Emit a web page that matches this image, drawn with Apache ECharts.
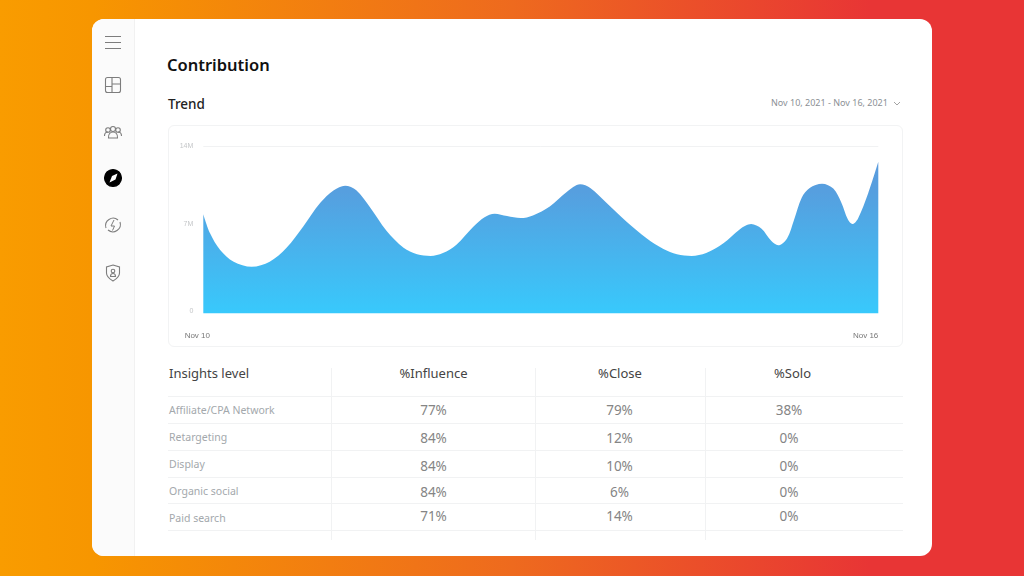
<!DOCTYPE html>
<html>
<head>
<meta charset="utf-8">
<script src="https://cdn.jsdelivr.net/npm/echarts@6/dist/echarts.min.js"></script>
<style>
  html, body { margin: 0; padding: 0; }
  body { width: 1024px; height: 576px; overflow: hidden; position: relative;
    background: linear-gradient(90deg, #f99c00 0%, #f79600 9%, #ee6a1e 50%, #e83535 85%, #e83535 100%);
    font-family: "Noto Sans", sans-serif; }
  .card { position: absolute; left: 92px; top: 19px; width: 840px; height: 537px; background: #fff; border-radius: 12px; overflow: hidden; }
  .side { position: absolute; left: 0; top: 0; width: 42px; height: 100%; background: #fbfbfb; border-right: 1px solid #f1f1f1; }
  .t { position: absolute; white-space: nowrap; }
  #chartBox { position: absolute; left: 168px; top: 125px; width: 735px; height: 222px; }
  #frame { position: absolute; left: 168px; top: 125px; width: 733px; height: 220px; border: 1px solid #f2f3f4; border-radius: 6px; }
  .hl { position: absolute; left: 168px; width: 735px; height: 1px; background: #f1f2f3; }
  .vl { position: absolute; top: 368px; height: 172px; width: 1px; background: #f1f2f3; }
  svg.ic { position: absolute; left: 0; top: 0; }
</style>
</head>
<body>
<div class="card"><div class="side"></div></div>
<svg class="ic" width="1024" height="576" fill="none" stroke="#7d7d7d" stroke-width="1.1">
  <path d="M105 36.5h16M105 42.5h16M105 48.5h16"/>
  <rect x="105.5" y="77.5" width="15" height="15" rx="2"/>
  <path d="M105.5 86.5h6.500M112 77.5v15M112 84h8.500"/>
  <circle cx="108" cy="130" r="2.300"/><circle cx="113" cy="129" r="2.500"/><circle cx="118" cy="130" r="2.300"/>
  <path d="M104.500 136c0-3 2-4 3.500-4M121.500 136c0-3-2-4-3.500-4M108.500 138c-.5-4 2-6 4.500-6s5 2 4.500 6z"/>
  <circle cx="113" cy="178" r="8.500" fill="#000" stroke="#000"/>
  <path d="M117.500 173.500l-2 6-6 3 2.500-6.500z" fill="#fff" stroke="none"/>
  <path d="M106 228a7.500 7.500 0 0 1 12-8M120 222a7.500 7.500 0 0 1-12 8"/>
  <path d="M114 220l-3 6h3.500l-2 4.500" stroke-width="1"/>
  <path d="M113 265l6.500 2v6c0 3.500-3 6-6.500 8-3.500-2-6.500-4.500-6.500-8v-6z"/>
  <circle cx="113" cy="271" r="1.800"/><path d="M110.500 276.500c0-2 1-3 2.500-3s2.500 1 2.500 3z"/>
  <path d="M894 102l3 3 3-3" stroke="#999" stroke-width="0.900"/>
</svg>
<div class="t" style="left:167px;top:53px;font-size:16.500px;font-weight:600;color:#111;line-height:24px">Contribution</div>
<div class="t" style="left:168px;top:94px;font-size:13.500px;font-weight:500;color:#222;line-height:20px">Trend</div>
<div class="t" id="range" style="left:771px;top:96px;font-size:9px;color:#8b9095;line-height:14px"></div>
<div id="frame"></div>
<div id="chartBox"></div>
<div id="tbl"></div>
<script>
// 图表数据
const rangeLabel = 'Nov 10, 2021 - Nov 16, 2021';
const dayLabels = { 0: 'Nov 10', 6: 'Nov 16' };
const yTicks = { 0: '0', 7: '7M', 14: '14M' };
const trendDays = [0, .06, .15, .27, .43, .59, .74, .89, 1.04, 1.16, 1.26, 1.36, 1.48, 1.63, 1.78, 1.90, 2.02, 2.13, 2.25, 2.40, 2.50, 2.59, 2.70, 2.82, 2.93, 3.08, 3.23, 3.35, 3.44, 3.59, 3.76, 3.94, 4.09, 4.21, 4.34, 4.47, 4.62, 4.77, 4.87, 4.96, 5.05, 5.11, 5.19, 5.25, 5.32, 5.39, 5.50, 5.60, 5.67, 5.73, 5.77, 5.82, 5.91, 6];
const trendValues = [8.29, 6.70, 5.31, 4.33, 3.91, 4.33, 5.50, 7.30, 9.25, 10.30, 10.68, 10.30, 8.90, 6.90, 5.50, 4.95, 4.81, 5.05, 5.75, 7.25, 8.05, 8.34, 8.15, 7.98, 8.20, 8.95, 10.15, 10.80, 10.50, 9.20, 7.70, 6.30, 5.40, 4.95, 4.81, 5.05, 5.85, 7.05, 7.48, 7.10, 6.05, 5.70, 6.30, 7.80, 9.70, 10.50, 10.85, 10.45, 9.30, 7.85, 7.48, 7.95, 10.05, 12.69];

// 表格数据
const headers = ['Insights level', '%Influence', '%Close', '%Solo'];
const channels = ['Affiliate/CPA Network', 'Retargeting', 'Display', 'Organic social', 'Paid search'];
const influence = ['77%', '84%', '84%', '84%', '71%'];
const closeRate = ['79%', '12%', '10%', '6%', '14%'];
const solo = ['38%', '0%', '0%', '0%', '0%'];

document.getElementById('range').textContent = rangeLabel;

function addText(text, x, y, size, color, center) {
  const el = document.createElement('div');
  el.className = 't';
  el.textContent = text;
  el.style.cssText = `left:${x}px;top:${y - 10}px;line-height:20px;font-size:${size}px;color:${color};` + (center ? 'transform:translateX(-50%);' : '');
  document.body.appendChild(el);
}

const headX = [433.5, 620, 792.5];
const colX = [433.5, 619.5, 789];
const labelY = [410, 437, 464, 491, 518];
const valueY = [410, 438, 466, 492, 516];
const lineY = [396, 423, 450, 477, 503, 530];

lineY.forEach(y => {
  const el = document.createElement('div');
  el.className = 'hl';
  el.style.top = y + 'px';
  document.body.appendChild(el);
});
[331, 535, 705].forEach(x => {
  const el = document.createElement('div');
  el.className = 'vl';
  el.style.left = x + 'px';
  document.body.appendChild(el);
});

addText(headers[0], 169, 372.5, 13, '#444');
headX.forEach((x, i) => addText(headers[i + 1], x, 372.5, 13, '#444', true));
channels.forEach((name, i) => {
  addText(name, 169, labelY[i], 10.500, '#a3a8ac');
  addText(influence[i], colX[0], valueY[i], 13.500, '#858585', true);
  addText(closeRate[i], colX[1], valueY[i], 13.500, '#858585', true);
  addText(solo[i], colX[2], valueY[i], 13.500, '#858585', true);
});

const myChart = echarts.init(document.getElementById('chartBox'));
myChart.setOption({
  animation: false,
  grid: { left: 35.3, right: 24.7, top: 21, bottom: 33.5 },
  xAxis: {
    type: 'value',
    min: 0,
    max: 6,
    interval: 6,
    axisLine: { show: false },
    axisTick: { show: false },
    splitLine: { show: false },
    axisLabel: {
      margin: 18,
      alignMinLabel: 'center',
      alignMaxLabel: 'right',
      formatter: v => v === 0 ? `{first|${dayLabels[v]}}` : `{last|${dayLabels[v]}}`,
      rich: {
        first: { fontSize: 8, color: '#777', padding: [0, 12, 0, 0] },
        last: { fontSize: 8, color: '#777' }
      }
    }
  },
  yAxis: {
    type: 'value',
    min: 0,
    max: 14,
    interval: 7,
    axisLine: { show: false },
    axisTick: { show: false },
    splitLine: { lineStyle: { color: ['transparent', 'transparent', '#f1f2f3'] } },
    axisLabel: {
      margin: 10,
      formatter: v => v === 7 ? `{mid|${yTicks[v]}}` : v === 0 ? `{low|${yTicks[v]}}` : `{top|${yTicks[v]}}`,
      rich: {
        top: { fontSize: 7, color: '#c4c6c8' },
        mid: { fontSize: 7, color: '#c4c6c8', padding: [0, 0, 11, 0] },
        low: { fontSize: 7, color: '#c4c6c8', padding: [0, 0, 5, 0] }
      }
    }
  },
  series: [{
    type: 'line',
    smooth: 0.33,
    symbol: 'none',
    lineStyle: { width: 0 },
    areaStyle: {
      opacity: 1,
      color: new echarts.graphic.LinearGradient(0, 0, 0, 1, [
        { offset: 0, color: '#5a9bdd' },
        { offset: 0.2, color: '#569fdf' },
        { offset: 1, color: '#38c9fc' }
      ])
    },
    data: trendDays.map((d, i) => [d, trendValues[i]])
  }]
});
</script>
</body>
</html>
